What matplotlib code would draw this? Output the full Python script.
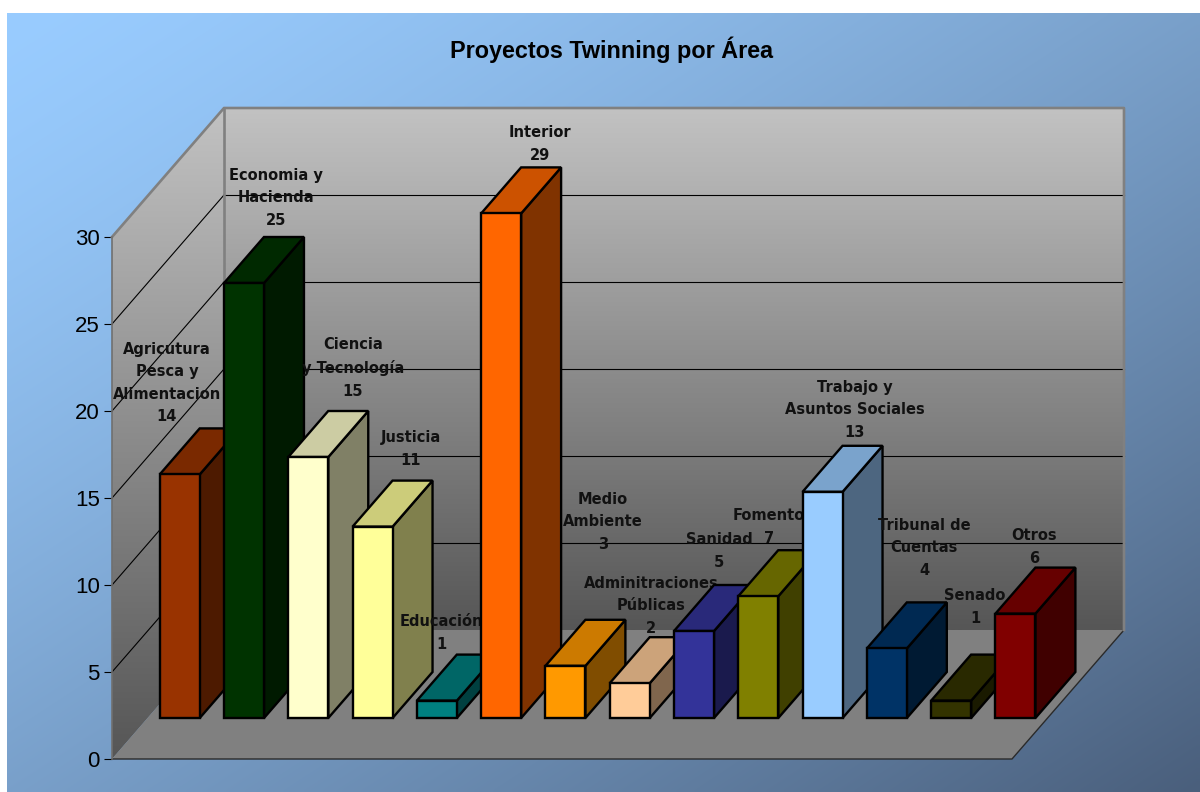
import numpy as np
import matplotlib
matplotlib.use('Agg')
import matplotlib.pyplot as plt
from matplotlib.colors import to_rgb
from matplotlib.patches import Polygon
from matplotlib.transforms import Affine2D

areas = ['Agricutura\nPesca y\nAlimentacion', 'Economia y\nHacienda', 'Ciencia\ny Tecnología',
         'Justicia', 'Educación', 'Interior', 'Medio\nAmbiente', 'Adminitraciones\nPúblicas',
         'Sanidad', 'Fomento', 'Trabajo y\nAsuntos Sociales', 'Tribunal de\nCuentas', 'Senado', 'Otros']
proyectos = [14, 25, 15, 11, 1, 29, 3, 2, 5, 7, 13, 4, 1, 6]
colores = ['#993300', '#003300', '#FFFFCC', '#FFFF99', '#008080', '#FF6600', '#FF9900',
           '#FFCC99', '#333399', '#808000', '#99CCFF', '#003366', '#333300', '#800000']
ticks = [0, 5, 10, 15, 20, 25, 30]

# label centres in picture pixels, the labels were moved by hand in the original
label_x = [167, 276, 353, 411, 441, 540, 603, 651, 719, 769, 855, 924, 975, 1034]
label_y = [383, 198, 368, 449, 633, 144, 522, 606, 551, 527, 410, 548, 607, 547]

W, H = 1200, 792
fig = plt.figure(figsize=(W / 100, H / 100), dpi=100, facecolor='white')

# background panel with diagonal gradient
bg = fig.add_axes([0, 0, 1, 1], zorder=0)
bg.axis('off')
xx, yy = np.meshgrid(np.linspace(0, 1, 200), np.linspace(0, 1, 200))
t = (((xx + yy) / 2) ** 1.3)[..., None]
c0 = np.array(to_rgb('#99CCFF'))
c1 = np.array(to_rgb('#4A5F7C'))
bg.imshow(c0 * (1 - t) + c1 * t, extent=[7, W, H, 13], aspect='auto', interpolation='bilinear')
bg.set_xlim(0, W)
bg.set_ylim(H, 0)

# main axes, the front plane of the 3d box
ax = fig.add_axes([112 / W, 1 - 759 / H, 900 / W, 522 / H], zorder=1)
ax.patch.set_alpha(0)
ax.set_xlim(0, 14)
ax.set_ylim(0, 30)
ax.set_autoscale_on(False)
for s in ['top', 'right', 'bottom']:
    ax.spines[s].set_visible(False)
ax.spines['left'].set_color('#707070')
ax.spines['left'].set_linewidth(1.2)
ax.spines['left'].set_zorder(2.5)
ax.set_xticks([])
ax.set_yticks(ticks)
ax.tick_params(axis='y', length=5.8, width=0.8, pad=3.0, labelsize=16)
for lab in ax.get_yticklabels():
    lab.set_fontfamily('Liberation Sans')

# depth of the box in data units
dx = 112 / (900 / 14)
dy = 129 / (522 / 30)


def proj(x, v, d):
    return (x + d * dx, v + d * dy)


def wall(points, top, bottom, y0, y1):
    poly = Polygon(points, closed=True, transform=ax.transData, fc='none', ec='none')
    ax.add_patch(poly)
    grad = np.linspace(0, 1, 256)[:, None, None]
    img = to_rgb(top) + (np.array(to_rgb(bottom)) - to_rgb(top)) * grad
    xs = [p[0] for p in points]
    im = ax.imshow(img, extent=[min(xs), max(xs), y0, y1], origin='upper', aspect='auto',
                   zorder=1, interpolation='bilinear')
    im.set_clip_box(fig.bbox)
    im.set_clip_path(poly)


back = [proj(0, 0, 1), proj(0, 30, 1), proj(14, 30, 1), proj(14, 0, 1)]
left = [proj(0, 0, 0), proj(0, 30, 0), proj(0, 30, 1), proj(0, 0, 1)]
floor = [proj(0, 0, 0), proj(0, 0, 1), proj(14, 0, 1), proj(14, 0, 0)]
wall(back, '#C2C2C2', '#565656', 0 + dy, 30 + dy)
wall(left, '#C2C2C2', '#565656', 0, 30 + dy)
ax.add_patch(Polygon(floor, closed=True, fc='#808080', ec='none', zorder=1.2, clip_on=False))
ax.plot(*zip(proj(0, 0, 0), proj(14, 0, 0), proj(14, 0, 1)), color='#2A2A2A', lw=1.0, zorder=1.3, clip_on=False)

# gridlines run along the left wall and the back wall
for v in ticks[1:-1]:
    ax.plot(*zip(proj(0, v, 0), proj(0, v, 1)), color='black', lw=0.8, zorder=1.5, clip_on=False)
    ax.plot(*zip(proj(0, v, 1), proj(14, v, 1)), color='black', lw=0.8, zorder=1.5, clip_on=False)

# wall outline
ax.plot(*zip(proj(0, 30, 0), proj(0, 30, 1), proj(14, 30, 1), proj(14, 0, 1)), color='#808080', lw=1.9,
        zorder=1.6, clip_on=False)
ax.plot(*zip(proj(0, 30, 1), proj(0, 0, 1)), color='#808080', lw=1.9, zorder=1.6, clip_on=False)

pix = Affine2D().scale(1, -1).translate(0, H)
bar_w = 40 / (900 / 14)
d0 = 41 / 129
d1 = 87 / 129

for i, v in enumerate(proyectos):
    col = np.array(to_rgb(colores[i]))
    x0 = i + 0.5 - bar_w / 2
    x1 = i + 0.5 + bar_w / 2
    side = [proj(x1, 0, d0), proj(x1, 0, d1), proj(x1, v, d1), proj(x1, v, d0)]
    top = [proj(x0, v, d0), proj(x1, v, d0), proj(x1, v, d1), proj(x0, v, d1)]
    front = [proj(x0, 0, d0), proj(x1, 0, d0), proj(x1, v, d0), proj(x0, v, d0)]
    for pts, shade in [(side, 0.5), (top, 0.8), (front, 1.0)]:
        ax.add_patch(Polygon(pts, closed=True, fc=col * shade, ec='black', lw=1.7, joinstyle='miter',
                             zorder=3 + i, clip_on=False))
    # each label sits under the bars drawn after it
    ax.text(label_x[i], label_y[i], areas[i] + '\n' + str(v), transform=pix, ha='center', va='center',
            multialignment='center', fontsize=10.5, fontweight='bold', family='DejaVu Sans', color='#111111',
            linespacing=1.63, zorder=3.5 + i, clip_on=False)

fig.text(611 / W, 1 - 50 / H, 'Proyectos Twinning por Área', ha='center', va='center', fontsize=16.8,
         fontweight='bold', family='Liberation Sans', color='black')

fig.savefig('out.png', dpi=100)
